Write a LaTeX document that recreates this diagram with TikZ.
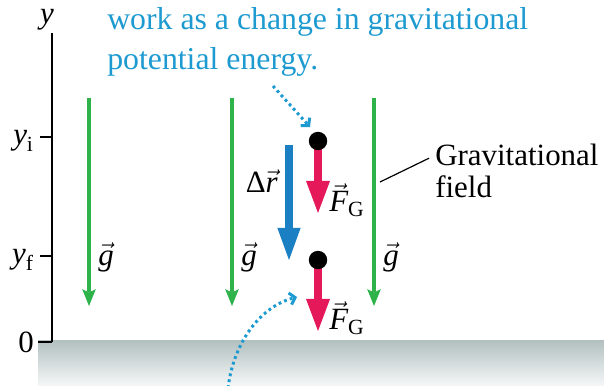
\documentclass[tikz,border=0pt]{standalone}
\usepackage{amsmath}
\usepackage{fontspec}
\setmainfont{Liberation Serif}
\usetikzlibrary{arrows.meta}
\definecolor{fieldgreen}{HTML}{2DB34A}
\definecolor{forcered}{HTML}{E5195A}
\definecolor{dispblue}{HTML}{1B7FC4}
\definecolor{noteblue}{HTML}{1D9AD0}
\definecolor{groundgray}{HTML}{B2C0C0}
\begin{document}
\begin{tikzpicture}[x=0.025cm, y=-0.025cm, font=\fontsize{22}{26}\selectfont,
  axis/.style={line width=0.04cm},
  lab/.style={inner sep=0pt},
  garrow/.style={draw=fieldgreen, line width=0.08cm, -{Stealth[length=0.42cm, width=0.34cm, inset=0.08cm, line width=0pt]}},
  disp/.style={draw=dispblue, line width=0.19cm, -{Triangle[length=0.8cm, width=0.58cm, line width=0pt]}},
  force/.style={draw=forcered, line width=0.2cm, -{Triangle[length=0.8cm, width=0.6cm, line width=0pt]}},
  hint/.style={draw=noteblue, line width=0.075cm, dash pattern=on 0.07cm off 0.08cm, -{Straight Barb[length=0.13cm, width=0.3cm]}},
  ball/.style={circle, fill=black, minimum size=0.46cm, inner sep=0pt}]
\useasboundingbox (0,0) rectangle (604,386);
% ground and y axis
\shade[top color=groundgray, bottom color=groundgray!12] (38,340) rectangle (604,386);
\coordinate (ytop) at (52,33);
\coordinate (orig) at (52,342);
\draw[axis] (ytop) -- (orig);
\draw[axis] (orig) -- ++(-14,0);
\draw[axis] (52,137) -- ++(-12,0);
\draw[axis] (52,256) -- ++(-12,0);
\node[lab] (ylab) at (47,20) {$\textit{y}$};
\node[lab, anchor=east] (yi) at (34,141) {$\textit{y}_{\textrm{i}}$};
\node[lab, anchor=east] (yf) at (34,260) {$\textit{y}_{\textrm{f}}$};
\node[lab, anchor=east] (zero) at (34,342) {0};
% field lines
\foreach \x in {89,232,374} {
  \draw[garrow] (\x,98) -- (\x,306);
  \node[lab, anchor=west] at (\x+9,257) {$\vec{\textit{g}}$};
}
% displacement
\coordinate (dispS) at (289,145);
\coordinate (dispE) at (289,260);
\draw[disp] (dispS) -- (dispE);
\node[lab, anchor=base east] (dr) at (278,193) {Δ$\vec{\textit{r}}$};
% particle and force
\coordinate (posI) at (318,141);
\coordinate (tipI) at (318,213);
\coordinate (posF) at (318,260);
\coordinate (tipF) at (318,331);
\draw[force] (posI) -- (tipI);
\draw[force] (posF) -- (tipF);
\node[ball] (ballI) at (posI) {};
\node[ball] (ballF) at (posF) {};
\node[lab, anchor=west] (fgI) at (329,200) {$\vec{\textit{F}}_{\textrm{G}}$};
\node[lab, anchor=west] (fgF) at (329,318) {$\vec{\textit{F}}_{\textrm{G}}$};
% notes
\node[lab, anchor=base west, noteblue, font=\fontsize{22.6}{26}\selectfont] (noteA) at (107,30) {work as a change in gravitational};
\node[lab, anchor=base west, noteblue, font=\fontsize{22.6}{26}\selectfont] (noteB) at (107,70) {potential energy.};
\node[lab, anchor=base west] (gravA) at (435,166) {Gravitational};
\node[lab, anchor=base west] (gravB) at (435,198) {field};
\coordinate (lead) at (380,182);
\draw[line width=0.03cm] (lead) -- ([xshift=-0.15cm, yshift=-0.07cm]gravA.west);
\coordinate (hintA) at (273,86);
\coordinate (hitI) at (310,127);
\draw[hint] (hintA) -- (hitI);
\coordinate (hintB) at (228,388);
\coordinate (hitF) at (297,297);
\draw[hint] (hintB) .. controls (234,340) and (262,306) .. (hitF);
\end{tikzpicture}
\end{document}
